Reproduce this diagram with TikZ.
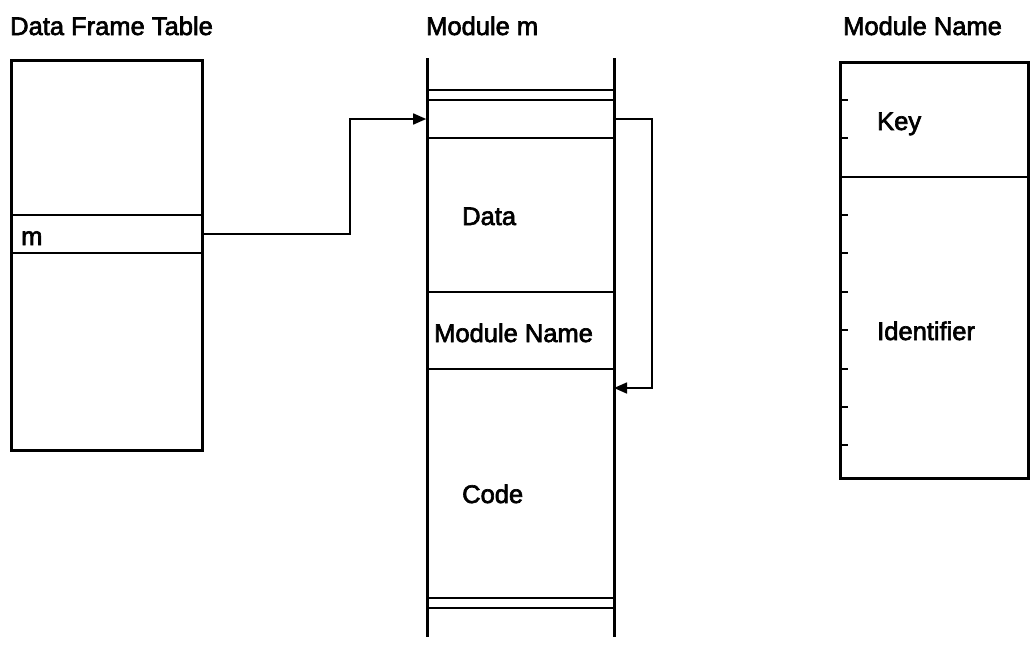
\documentclass[tikz,border=0pt]{standalone}
\usepackage{fontspec}
\setmainfont{Liberation Sans}[BoldFont=Liberation Sans,BoldFeatures={FakeBold=2.5}]
\usetikzlibrary{arrows.meta}
\begin{document}
\begin{tikzpicture}[x=1pt,y=-1pt,
  thickline/.style={line width=3pt},
  thinline/.style={line width=1.6pt},
  lbl/.style={anchor=base west,inner sep=0pt,font=\fontsize{25.5}{30}\selectfont\bfseries},
  arr/.style={line width=1.6pt,-{Triangle[length=13pt,width=11pt]}}]
\useasboundingbox (0,0) rectangle (1036,648);
% titles
\node[lbl] (t1) at (10,35) {Data Frame Table};
\node[lbl] (t2) at (426,35) {Module m};
\node[lbl] (t3) at (843,35) {Module Name};
% Data frame table
\draw[thickline] (11,60) rectangle (202,450);
\node[draw,thinline,inner sep=0pt,minimum width=191pt,minimum height=38pt] (mrow) at (106.5,234) {};
\node[lbl] (mlbl) at (21,245) {m};
% Module m
\draw[thickline] (427,58) -- (427,637);
\draw[thickline] (614,58) -- (614,637);
\draw[thinline] (427,90) -- (614,90);
\node[draw,thinline,inner sep=0pt,minimum width=187pt,minimum height=38pt] (slot) at (520.5,119) {};
\node[draw,thinline,inner sep=0pt,minimum width=187pt,minimum height=77pt] (namecell) at (520.5,330.5) {};
\draw[thinline] (427,598) -- (614,598);
\draw[thinline] (427,608) -- (614,608);
\node[lbl] (data) at (462,225) {Data};
\node[lbl] (mname) at (434,342) {Module Name};
\node[lbl] (code) at (462,503) {Code};
% arrows
\coordinate (bend1) at (350,234);
\coordinate (codeentry) at (614,388);
\draw[arr] (mrow.east) -- (bend1) |- (slot.west);
\draw[arr] (slot.east) -- ++(37,0) |- (codeentry);
% Module Name box
\draw[thickline] (840,62) rectangle (1028,478);
\draw[thinline] (840,177) -- (1028,177);
\foreach \yy in {100,138,215,253,292,330,369,407,445}
  \draw[thinline] (840,\yy) -- (848,\yy);
\node[lbl] (key) at (877,130) {Key};
\node[lbl] (ident) at (877,340) {Identifier};
\end{tikzpicture}
\end{document}
